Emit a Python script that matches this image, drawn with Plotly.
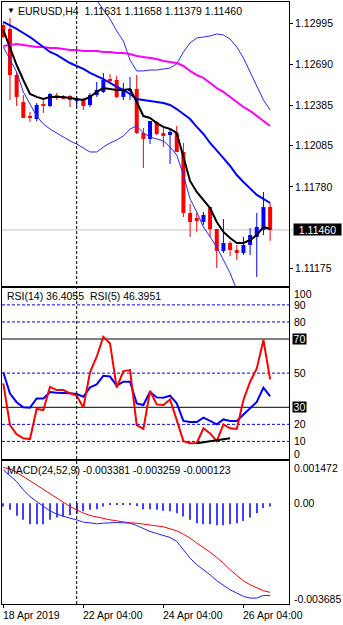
import plotly.graph_objects as go

# ---------------- data (H4 bars, index 0 = 18 Apr 2019 04:00) ----------------
bar_index = list(range(41))
open_prices = [1.12982, 1.12953, 1.12611, 1.12410, 1.12299, 1.12284, 1.12396, 1.12381, 1.12462, 1.12448,
               1.12455, 1.12425, 1.12433, 1.12388, 1.12462, 1.12485, 1.12581, 1.12574, 1.12448, 1.12492,
               1.12507, 1.12180, 1.12136, 1.12262, 1.12180, 1.12165, 1.12180, 1.12039, 1.11586, 1.11549,
               1.11519, 1.11630, 1.11467, 1.11304, 1.11363, 1.11311, 1.11289, 1.11348, 1.11408, 1.11460,
               1.11631]
high_prices = [1.12997, 1.13034, 1.12633, 1.12462, 1.12336, 1.12403, 1.12425, 1.12477, 1.12477, 1.12462,
               1.12462, 1.12455, 1.12440, 1.12477, 1.12559, 1.12626, 1.12618, 1.12604, 1.12552, 1.12596,
               1.12611, 1.12217, 1.12269, 1.12269, 1.12225, 1.12217, 1.12232, 1.12106, 1.11653, 1.11586,
               1.11593, 1.11630, 1.11467, 1.11541, 1.11378, 1.11348, 1.11408, 1.11474, 1.11586, 1.11742,
               1.11658]
low_prices = [1.12886, 1.12425, 1.12381, 1.12292, 1.12262, 1.12269, 1.12329, 1.12373, 1.12425, 1.12433,
              1.12373, 1.12366, 1.12351, 1.12373, 1.12448, 1.12477, 1.12559, 1.12440, 1.12425, 1.12425,
              1.12173, 1.11920, 1.12098, 1.12165, 1.12076, 1.11950, 1.12039, 1.11556, 1.11408, 1.11445,
              1.11497, 1.11408, 1.11177, 1.11289, 1.11266, 1.11237, 1.11274, 1.11274, 1.11110, 1.11422,
              1.11379]
close_prices = [1.12893, 1.12611, 1.12448, 1.12292, 1.12292, 1.12388, 1.12381, 1.12470, 1.12440, 1.12440,
                1.12425, 1.12433, 1.12381, 1.12462, 1.12500, 1.12574, 1.12566, 1.12448, 1.12507, 1.12507,
                1.12180, 1.12136, 1.12269, 1.12173, 1.12158, 1.12188, 1.12039, 1.11586, 1.11519, 1.11526,
                1.11571, 1.11467, 1.11304, 1.11363, 1.11311, 1.11289, 1.11348, 1.11422, 1.11482, 1.11630,
                1.11460]

ma_fast = [1.12945, 1.12812, 1.12685, 1.12574, 1.12470, 1.12448, 1.12433, 1.12448, 1.12448, 1.12448,
           1.12440, 1.12433, 1.12425, 1.12448, 1.12485, 1.12514, 1.12507, 1.12500, 1.12500, 1.12507,
           1.12410, 1.12306, 1.12292, 1.12254, 1.12225, 1.12210, 1.12180, 1.12002, 1.11824, 1.11742,
           1.11682, 1.11623, 1.11519, 1.11445, 1.11400, 1.11363, 1.11363, 1.11385, 1.11422, 1.11482,
           1.11467]
ma_mid = [1.13005, 1.12982, 1.12953, 1.12923, 1.12893, 1.12856, 1.12819, 1.12782, 1.12760, 1.12730,
          1.12700, 1.12678, 1.12656, 1.12626, 1.12604, 1.12581, 1.12552, 1.12522, 1.12500, 1.12470,
          1.12433, 1.12425, 1.12418, 1.12410, 1.12403, 1.12388, 1.12358, 1.12321, 1.12284, 1.12225,
          1.12173, 1.12106, 1.12046, 1.11994, 1.11935, 1.11868, 1.11816, 1.11764, 1.11720, 1.11690,
          1.11660]
ma_slow = [1.12826, 1.12834, 1.12841, 1.12834, 1.12826, 1.12819, 1.12819, 1.12812, 1.12812, 1.12804,
           1.12797, 1.12797, 1.12789, 1.12789, 1.12789, 1.12782, 1.12782, 1.12774, 1.12774, 1.12767,
           1.12752, 1.12745, 1.12737, 1.12730, 1.12715, 1.12708, 1.12700, 1.12678, 1.12641, 1.12611,
           1.12589, 1.12552, 1.12514, 1.12485, 1.12448, 1.12410, 1.12373, 1.12344, 1.12306, 1.12269,
           1.12232]
bb_upper = [None] * 13 + [1.13235, 1.13168, 1.13094, 1.13027, 1.12938, 1.12863, 1.12722,
                          1.12641, 1.12641, 1.12648, 1.12648, 1.12656, 1.12663, 1.12693, 1.12782,
                          1.12849, 1.12886, 1.12893, 1.12901, 1.12916, 1.12908, 1.12878, 1.12819,
                          1.12737, 1.12633, 1.12537, 1.12425, 1.12351]
bb_lower = [1.12819, 1.12722, 1.12633, 1.12485, 1.12396, 1.12306, 1.12247, 1.12210, 1.12180, 1.12150,
            1.12121, 1.12098, 1.12069, 1.12039, 1.12039, 1.12076, 1.12106, 1.12128, 1.12158, 1.12210,
            1.12232, 1.12180, 1.12150, 1.12136, 1.12121, 1.12076, 1.12017, 1.11868, 1.11690, 1.11593,
            1.11482, 1.11408, 1.11333, 1.11237, 1.11140, 1.11014, 1.10962, 1.10940, 1.10940, 1.10962,
            1.10976]

rsi14 = [50.5, 38.0, 33.0, 30.0, 29.8, 35.2, 35.2, 39.0, 38.5, 38.5,
         38.2, 37.8, 36.2, 41.7, 43.4, 48.5, 48.0, 42.7, 45.0, 45.0,
         32.3, 31.3, 39.1, 35.8, 35.6, 36.8, 32.3, 22.0, 21.4, 21.4,
         23.9, 22.0, 20.0, 22.9, 22.0, 22.0, 25.5, 29.4, 33.1, 41.5,
         36.4055]
rsi5 = [44.0, 19.6, 14.2, 11.8, 11.4, 29.0, 28.4, 42.0, 40.1, 40.1,
        38.2, 36.8, 29.8, 50.5, 59.6, 71.3, 67.4, 41.5, 51.2, 51.8,
        19.6, 17.3, 39.5, 31.7, 31.3, 34.6, 22.5, 10.2, 8.9, 9.1,
        17.7, 14.7, 10.2, 20.0, 17.7, 17.3, 34.3, 45.0, 52.8, 69.4,
        46.3951]
rsi_trend_x = [29, 34]
rsi_trend_y = [9.0, 11.8]

macd_main = [0.001215, 0.001009, 0.000790, 0.000485, 0.000242, 0.000060, -0.000123, -0.000281, -0.000403, -0.000488,
             -0.000549, -0.000610, -0.000695, -0.000719, -0.000756, -0.000731, -0.000707, -0.000707, -0.000719, -0.000731,
             -0.000816, -0.000938, -0.001035, -0.001108, -0.001194, -0.001254, -0.001400, -0.001705, -0.002009, -0.002252,
             -0.002435, -0.002617, -0.002836, -0.003006, -0.003165, -0.003286, -0.003408, -0.003469, -0.003469, -0.003371,
             -0.003381]
macd_signal = [0.001301, 0.001252, 0.001130, 0.000972, 0.000814, 0.000668, 0.000485, 0.000327, 0.000181, 0.000023,
               -0.000123, -0.000245, -0.000366, -0.000451, -0.000512, -0.000549, -0.000610, -0.000646, -0.000695, -0.000719,
               -0.000731, -0.000768, -0.000792, -0.000829, -0.000865, -0.000938, -0.001011, -0.001133, -0.001279, -0.001461,
               -0.001619, -0.001790, -0.001984, -0.002191, -0.002435, -0.002641, -0.002836, -0.002982, -0.003104, -0.003201,
               -0.003259]
macd_hist = [-0.00012, -0.00024, -0.00046, -0.00061, -0.00077, -0.00077, -0.00077, -0.00061, -0.00052, -0.00049,
             -0.00043, -0.00037, -0.00030, -0.00024, -0.00022, -0.00012, -0.00006, -0.00006, -0.00004, -0.00004,
             -0.00010, -0.00022, -0.00022, -0.00024, -0.00028, -0.00030, -0.00037, -0.00049, -0.00061, -0.00073,
             -0.00077, -0.00077, -0.00081, -0.00081, -0.00077, -0.00073, -0.00065, -0.00052, -0.00037, -0.00018,
             -0.000123]

price_ticks = [1.12995, 1.12690, 1.12385, 1.12085, 1.11780, 1.11175]
last_price = 1.11460
rsi_dotted_levels = [90, 80, 50, 20, 10]
rsi_solid_levels = [70, 30]
rsi_plain_labels = [(100, -6), (90, 0), (80, 0), (50, 0), (20, 0), (10, 0), (0, 5)]
macd_labels = [(0.001472, "0.001472", -5), (0.0, "0.00", 0), (-0.003685, "-0.003685", 5)]
time_ticks = [0, 12, 24, 36]
time_labels = ["18 Apr 2019", "22 Apr 04:00", "24 Apr 04:00", "26 Apr 04:00"]
separator_bar = 11

title_main = "EURUSD,H4\u00a0\u00a01.11631 1.11658 1.11379 1.11460"
title_rsi = "RSI(14) 36.4055\u00a0\u00a0RSI(5) 46.3951"
title_macd = "MACD(24,52,9) -0.003381 -0.003259 -0.000123"

# ---------------- layout helpers ----------------
W, H = 343, 625
def fx(p):
    return p / W
def fy(p):
    return 1 - p / H

FONT = "Tahoma, 'Liberation Sans', Arial, sans-serif"
FS = 10.5
BULL, BEAR = "#0000FF", "#FF0000"

x_range = [-0.195, 42.83]
x_domain = [fx(2), fx(289)]

fig = go.Figure()

# candle bodies
bases, heights, colors = [], [], []
for o, c in zip(open_prices, close_prices):
    bases.append(min(o, c))
    heights.append(max(abs(c - o), 0.00002))
    colors.append(BULL if c >= o else BEAR)

for col in (BULL, BEAR):
    wx, wy = [], []
    for i, o, h, l, c in zip(bar_index, open_prices, high_prices, low_prices, close_prices):
        if (BULL if c >= o else BEAR) == col:
            wx += [i, i, None]
            wy += [l, h, None]
    fig.add_trace(go.Scatter(x=wx, y=wy, mode="lines", line=dict(color=col, width=1),
                             xaxis="x", yaxis="y", hoverinfo="skip"))

fig.add_trace(go.Bar(x=bar_index, y=heights, base=bases, width=0.6,
                     marker=dict(color=colors, line=dict(width=0)),
                     xaxis="x", yaxis="y", hoverinfo="skip"))

for series in (bb_upper, bb_lower):
    fig.add_trace(go.Scatter(x=bar_index, y=series, mode="lines",
                             line=dict(color="#2828FF", width=1), xaxis="x", yaxis="y",
                             hoverinfo="skip"))
fig.add_trace(go.Scatter(x=bar_index, y=ma_slow, mode="lines", line=dict(color="#FF00FF", width=2),
                         xaxis="x", yaxis="y", hoverinfo="skip"))
fig.add_trace(go.Scatter(x=bar_index, y=ma_mid, mode="lines", line=dict(color="#0000FF", width=2),
                         xaxis="x", yaxis="y", hoverinfo="skip"))
fig.add_trace(go.Scatter(x=bar_index, y=ma_fast, mode="lines", line=dict(color="#000000", width=2),
                         xaxis="x", yaxis="y", hoverinfo="skip"))

# RSI
fig.add_trace(go.Scatter(x=bar_index, y=rsi14, mode="lines", line=dict(color="#0000FF", width=2),
                         xaxis="x2", yaxis="y2", hoverinfo="skip"))
fig.add_trace(go.Scatter(x=bar_index, y=rsi5, mode="lines", line=dict(color="#FF0000", width=2),
                         xaxis="x2", yaxis="y2", hoverinfo="skip"))
fig.add_trace(go.Scatter(x=rsi_trend_x, y=rsi_trend_y, mode="lines", line=dict(color="#000000", width=2),
                         xaxis="x2", yaxis="y2", hoverinfo="skip"))

# MACD
fig.add_trace(go.Bar(x=bar_index, y=macd_hist, width=0.17, marker=dict(color="#4040FF", line=dict(width=0)),
                     xaxis="x3", yaxis="y3", hoverinfo="skip"))
fig.add_trace(go.Scatter(x=bar_index, y=macd_signal, mode="lines", line=dict(color="#FF0000", width=1),
                         xaxis="x3", yaxis="y3", hoverinfo="skip"))
fig.add_trace(go.Scatter(x=bar_index, y=macd_main, mode="lines", line=dict(color="#2020FF", width=1),
                         xaxis="x3", yaxis="y3", hoverinfo="skip"))

frame = dict(showline=True, mirror=True, linecolor="black", linewidth=1,
             showgrid=False, zeroline=False)

shapes = []
# bid line
shapes.append(dict(type="line", xref="paper", yref="y", x0=fx(2), x1=fx(293),
                   y0=last_price, y1=last_price, line=dict(color="#C0C0C0", width=1), layer="below"))
for lv in rsi_dotted_levels:
    shapes.append(dict(type="line", xref="paper", yref="y2", x0=x_domain[0], x1=x_domain[1],
                       y0=lv, y1=lv, line=dict(color="#0000FF", width=1, dash="3px,2px"), layer="below"))
for lv in rsi_solid_levels:
    shapes.append(dict(type="line", xref="paper", yref="y2", x0=x_domain[0], x1=x_domain[1],
                       y0=lv, y1=lv, line=dict(color="#000000", width=1), layer="below"))
shapes.append(dict(type="line", xref="x", yref="paper", x0=separator_bar, x1=separator_bar,
                   y0=fy(604), y1=1, line=dict(color="#000000", width=1, dash="3px,2px"), layer="above"))

ann = []
def label(text, x, y, yref, xanchor="left", yshift=0, bg=None, color="black", size=FS, w=None, h=None):
    d = dict(text=text, x=x, y=y, xref="paper", yref=yref, xanchor=xanchor, yanchor="middle",
             showarrow=False, yshift=yshift, borderpad=0,
             font=dict(family=FONT, size=size, color=color))
    if bg:
        d["bgcolor"] = bg
    if w:
        d["width"] = w
    if h:
        d["height"] = h
    ann.append(d)

label("\u25BC", fx(6), fy(11), "paper", size=8)
label(title_main, fx(17), fy(11), "paper")
label(title_rsi, fx(6), fy(296.5), "paper")
label(title_macd, fx(6), fy(470), "paper")

label(f"{last_price:.5f}", fx(292.5), last_price, "y", bg="black", color="white", w=47, h=11)
for v, ys in rsi_plain_labels:
    label(str(v), fx(292.5), v, "y2", yshift=ys)
for v in rsi_solid_levels:
    label(str(v), fx(291.5), v, "y2", bg="black", color="white", w=13, h=10)
for v, t, ys in macd_labels:
    label(t, fx(292.5), v, "y3", yshift=ys)
for tk, tl in zip(time_ticks, time_labels):
    ann.append(dict(text=tl, x=tk, y=fy(615), xref="x3", yref="paper", xanchor="left",
                    yanchor="middle", showarrow=False, borderpad=0, xshift=-1,
                    font=dict(family=FONT, size=FS, color="black")))

fig.update_layout(
    width=W, height=H, margin=dict(l=0, r=0, t=0, b=0),
    paper_bgcolor="white", plot_bgcolor="white", showlegend=False, barmode="overlay",
    font=dict(family=FONT, size=FS, color="black"),
    xaxis=dict(domain=x_domain, range=x_range, anchor="y", showticklabels=False, ticks="", **frame),
    yaxis=dict(domain=[fy(286), fy(2)], range=[1.110435, 1.131532], anchor="x", side="right",
               tickvals=price_ticks, ticktext=[f"{v:.5f}" for v in price_ticks],
               ticks="outside", ticklen=3, tickcolor="black",
               tickfont=dict(family=FONT, size=FS, color="black"), **frame),
    xaxis2=dict(domain=x_domain, range=x_range, anchor="y2", showticklabels=False, ticks="", **frame),
    yaxis2=dict(domain=[fy(458.5), fy(287.8)], range=[0, 100], anchor="x2", side="right",
                showticklabels=False, ticks="", **frame),
    xaxis3=dict(domain=x_domain, range=x_range, anchor="y3", showticklabels=False,
                tickvals=time_ticks, ticks="outside", ticklen=3, tickcolor="black", **frame),
    yaxis3=dict(domain=[fy(604), fy(461)], range=[-0.003685, 0.00154], anchor="x3", side="right",
                showticklabels=False, ticks="", **frame),
    shapes=shapes, annotations=ann,
)

fig.write_html("out.html")
